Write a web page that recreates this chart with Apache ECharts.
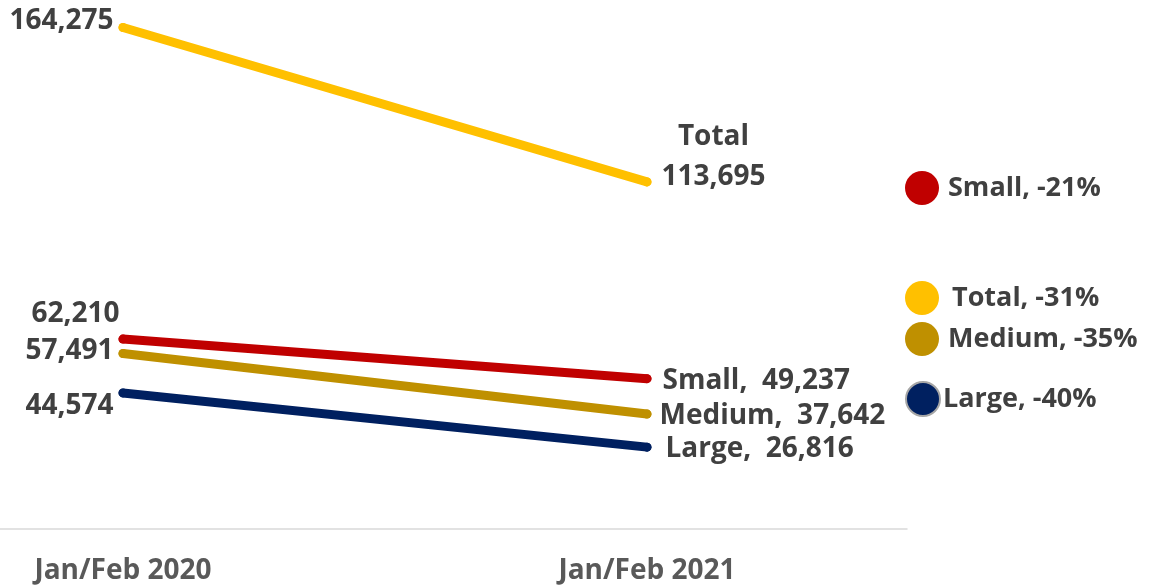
<!DOCTYPE html>
<html>
<head>
<meta charset="utf-8">
<script src="https://cdn.jsdelivr.net/npm/echarts@6/dist/echarts.min.js"></script>
<style>
  html, body { margin: 0; padding: 0; background: #fff; }
  #chart { width: 1149px; height: 586px; }
</style>
</head>
<body>
<div id="chart"></div>
<script>
// Periods and values per business size
const categories = ['Jan/Feb 2020', 'Jan/Feb 2021'];
const seriesNames = ['Total', 'Small', 'Medium', 'Large'];
const totalValues = [164275, 113695];
const smallValues = [62210, 49237];
const mediumValues = [57491, 37642];
const largeValues = [44574, 26816];

const colors = {
  Total: '#FFC000',
  Small: '#C00000',
  Medium: '#BF9000',
  Large: '#002060'
};

const FONT = '"Open Sans", "Liberation Sans", sans-serif';
const TEXT = '#404040';

function fmt(v) { return v.toLocaleString('en-US'); }
function pct(arr) { return Math.round((arr[1] / arr[0] - 1) * 100) + '%'; }

const valuesBy = { Total: totalValues, Small: smallValues, Medium: mediumValues, Large: largeValues };

// label placement for the start and end points of each line
const startLabel = {
  Total: { offset: [0, -6] },
  Small: { offset: [6, -25] },
  Medium: { offset: [0, -2] },
  Large: { offset: [0, 13] }
};
const endLabel = {
  Total: { align: 'center', offset: [57, -25], lineHeight: 40, text: v => 'Total\n' + fmt(v) },
  Small: { offset: [6, 2], text: v => 'Small,  ' + fmt(v) },
  Medium: { offset: [3, 2], text: v => 'Medium,  ' + fmt(v) },
  Large: { offset: [9, 2], text: v => 'Large,  ' + fmt(v) }
};

const labelBase = { show: true, color: TEXT, fontFamily: FONT, fontWeight: 'bold', fontSize: 28 };

function makeSeries(name) {
  const vals = valuesBy[name];
  const e = endLabel[name];
  return {
    name: name,
    type: 'line',
    symbol: 'circle',
    symbolSize: 9,
    itemStyle: { color: colors[name] },
    lineStyle: { width: 9, color: colors[name], cap: 'round' },
    z: name === 'Total' ? 3 : 2,
    silent: true,
    data: [
      { value: [0, vals[0]], label: Object.assign({}, labelBase, { position: 'left', offset: startLabel[name].offset, formatter: () => fmt(vals[0]) }) },
      { value: [1, vals[1]], label: Object.assign({}, labelBase, { position: 'right', align: e.align || 'left', offset: e.offset, lineHeight: e.lineHeight || 30, formatter: () => e.text(vals[1]) }) }
    ]
  };
}

// legend circles with the percentage change of each line
const legendSpots = [
  { name: 'Small', top: 171, pad: [0, 0, 0, 4] },
  { name: 'Total', top: 281, pad: [0, 0, 0, 8] },
  { name: 'Medium', top: 322, pad: [0, 0, 0, 4] },
  { name: 'Large', top: 381, pad: [0, 0, 0, -2] }
];

const chart = echarts.init(document.getElementById('chart'), null, { renderer: 'canvas' });
chart.setOption({
  animation: false,
  backgroundColor: '#fff',
  grid: { left: 0, right: 242, top: 10, bottom: 57, containLabel: false },
  xAxis: {
    type: 'value',
    min: -0.2347,
    max: 1.4962,
    splitLine: { show: false },
    axisTick: { show: false },
    axisLine: { show: true, lineStyle: { color: '#D9D9D9', width: 1.5 } },
    axisLabel: {
      customValues: [0, 1],
      formatter: v => categories[Math.round(v)],
      color: '#595959',
      fontFamily: FONT,
      fontWeight: 'bold',
      fontSize: 28,
      margin: 28
    }
  },
  yAxis: {
    type: 'value',
    min: 0,
    max: 170000,
    show: false
  },
  legend: legendSpots.map(s => ({
    data: [{ name: s.name, itemStyle: s.name === 'Large' ? { borderColor: '#A6A6A6', borderWidth: 2 } : undefined }],
    left: 905,
    top: s.top,
    icon: 'circle',
    itemWidth: 34,
    itemHeight: 34,
    selectedMode: false,
    padding: 0,
    formatter: n => n + ', ' + pct(valuesBy[n]),
    textStyle: { color: TEXT, fontFamily: FONT, fontWeight: 'bold', fontSize: 27, padding: s.pad }
  })),
  series: seriesNames.map(makeSeries)
});
</script>
</body>
</html>
